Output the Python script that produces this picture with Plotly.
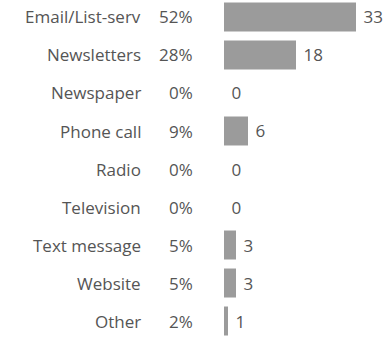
import plotly.graph_objects as go

categories = ["Email/List-serv", "Newsletters", "Newspaper", "Phone call", "Radio",
              "Television", "Text message", "Website", "Other"]
counts = [33, 18, 0, 6, 0, 0, 3, 3, 1]
percents = ["52%", "28%", "0%", "9%", "0%", "0%", "5%", "5%", "2%"]

TEXT = "#555555"
FONT = "Open Sans"
SIZE = 17

fig = go.Figure(go.Bar(
    x=counts,
    y=categories,
    orientation="h",
    marker=dict(color="#9b9b9b", line=dict(width=0)),
    text=[f" {c}" for c in counts],
    textposition="outside",
    textfont=dict(family=FONT, size=SIZE, color=TEXT),
    cliponaxis=False,
    hoverinfo="skip",
))

# category names and shares to the left of the bars
for cat, pct in zip(categories, percents):
    fig.add_annotation(x=-20.3, y=cat, xref="x", yref="y", text=cat,
                       showarrow=False, xanchor="right",
                       font=dict(family=FONT, size=SIZE, color=TEXT))
    fig.add_annotation(x=-7.3, y=cat, xref="x", yref="y", text=pct,
                       showarrow=False, xanchor="right",
                       font=dict(family=FONT, size=SIZE, color=TEXT))

fig.update_layout(
    width=391, height=341,
    margin=dict(l=0, r=0, t=0, b=0),
    paper_bgcolor="white", plot_bgcolor="white",
    bargap=0.237,
    showlegend=False,
    xaxis=dict(range=[-56, 41.75], visible=False, fixedrange=True),
    yaxis=dict(range=[8.526, -0.447], visible=False, fixedrange=True),
)

fig.write_html("out.html")
